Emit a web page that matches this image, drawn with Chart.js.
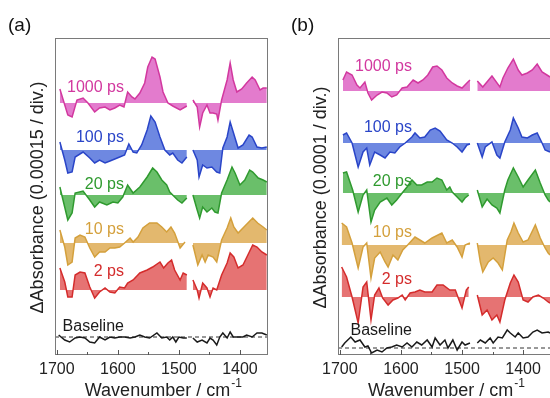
<!DOCTYPE html>
<html lang="en">
<head>
<meta charset="UTF-8" />
<title>Transient IR difference spectra</title>
<script src="https://cdn.jsdelivr.net/npm/chart.js"></script>
<style>
  html, body {
    margin: 0;
    padding: 0;
    width: 550px;
    height: 398px;
    overflow: hidden;
    background: #fff;
  }
  .panel {
    position: absolute;
    top: 0;
    height: 398px;
  }
  #panelA { left: 0; width: 275px; }
  #panelB { left: 283px; width: 285px; }
</style>
</head>
<body>
<div class="panel" id="panelA"><canvas id="chartA"></canvas></div>
<div class="panel" id="panelB"><canvas id="chartB"></canvas></div>

<script>
// trace names, top to bottom
const delays = ['1000 ps', '100 ps', '20 ps', '10 ps', '2 ps', 'Baseline'];
const xTicks = [1700, 1600, 1500, 1400];
const xMinorTicks = [1650, 1550, 1450];
const xRangeA = [1354, 1703];
const xRangeB = [1338, 1703];   // panel (b) runs off the right edge of the figure
const GAP = [1482, null];

// panel (a) — [wavenumber, dA] (arb. units)
const a1000 = [[1695,14],[1682,-12],[1675,-14],[1667,3],[1657,5],[1649,0],[1638,-9],[1630,-5],[1621,-4],[1613,-7],[1605,-5],[1597,-2],[1590,-4],[1584,11],[1577,6],[1572,4],[1564,10],[1556,20],[1551,36],[1544,46],[1539,44],[1531,26],[1526,11],[1518,0],[1510,-3],[1498,-7],[1487,-3],
  GAP,[1477,3],[1470,-4],[1466,-24],[1461,-10],[1454,-2],[1449,-10],[1444,-10],[1438,-11],[1436,-17],[1430,3],[1421,23],[1416,40],[1411,23],[1405,11],[1397,14],[1389,20],[1380,26],[1375,23],[1367,13],[1362,15],[1356,15]];
const a100 = [[1695,8],[1687,-10],[1682,-23],[1675,-22],[1670,-7],[1657,-2],[1646,-8],[1638,-13],[1630,-10],[1621,-13],[1613,-11],[1605,-9],[1597,-7],[1589,-5],[1582,6],[1575,-2],[1569,-3],[1561,5],[1552,20],[1546,34],[1539,28],[1531,13],[1523,0],[1515,-5],[1510,-3],[1502,-10],[1495,-13],[1487,-7],
  GAP,[1477,0],[1470,-10],[1467,-27],[1461,-15],[1454,-18],[1446,-17],[1438,-22],[1433,-23],[1428,2],[1421,13],[1416,28],[1411,18],[1403,2],[1395,5],[1385,15],[1380,13],[1372,3],[1364,2],[1356,3]];
const a20 = [[1695,8],[1682,-25],[1675,-18],[1670,2],[1657,4],[1646,-5],[1638,-12],[1630,-7],[1618,-10],[1608,-7],[1600,-8],[1592,-2],[1584,10],[1575,2],[1564,8],[1552,18],[1543,27],[1536,23],[1528,15],[1520,10],[1515,3],[1502,-5],[1495,-8],[1487,-3],
  GAP,[1477,0],[1470,-15],[1466,-23],[1461,-12],[1454,-17],[1446,-13],[1441,-17],[1436,-18],[1430,2],[1421,15],[1413,28],[1408,22],[1400,10],[1392,15],[1384,25],[1379,23],[1370,17],[1362,15],[1356,13]];
const a10 = [[1695,13],[1687,-4],[1682,-22],[1675,-19],[1670,5],[1662,8],[1654,6],[1646,-5],[1638,-14],[1630,-9],[1621,-9],[1613,-5],[1605,-5],[1597,-4],[1589,0],[1580,5],[1575,1],[1567,6],[1559,15],[1548,20],[1536,20],[1528,16],[1520,11],[1513,16],[1507,10],[1498,-5],[1490,1],
  GAP,[1477,-2],[1469,-22],[1462,-12],[1457,-19],[1452,-12],[1444,-14],[1438,-19],[1430,3],[1421,15],[1415,25],[1410,16],[1403,10],[1395,15],[1387,20],[1379,25],[1371,20],[1362,16],[1356,13]];
const a2 = [[1695,22],[1687,8],[1682,-7],[1675,-7],[1670,15],[1662,18],[1654,17],[1646,3],[1638,-8],[1630,-2],[1621,2],[1613,-2],[1605,-3],[1597,3],[1589,2],[1584,7],[1575,10],[1564,17],[1552,20],[1543,23],[1531,28],[1525,22],[1518,27],[1512,30],[1507,20],[1498,10],[1493,17],[1487,15],
  GAP,[1477,10],[1470,0],[1467,-8],[1461,7],[1454,2],[1449,-7],[1444,2],[1438,0],[1430,15],[1421,27],[1416,37],[1410,33],[1403,22],[1395,25],[1387,35],[1379,45],[1372,43],[1364,38],[1356,35]];
const aBase = [[1697,2],[1687,-3],[1679,-5],[1670,-1],[1662,0],[1654,-1],[1646,-5],[1638,-6],[1630,0],[1621,-3],[1613,0],[1605,-1],[1597,0],[1589,0],[1580,-1],[1572,0],[1564,2],[1556,0],[1548,-1],[1536,4],[1528,-1],[1520,0],[1515,-3],[1510,0],[1505,-5],[1500,0],[1493,-1],[1487,-1],
  GAP,[1477,-1],[1470,-5],[1462,-3],[1454,-6],[1449,-1],[1444,-3],[1438,-8],[1433,0],[1428,4],[1421,-1],[1416,5],[1411,0],[1403,0],[1395,0],[1389,2],[1380,0],[1372,4],[1364,4],[1356,2]];

// panel (b)
const b1000 = [[1695,11],[1689,19],[1680,16],[1672,6],[1667,3],[1659,9],[1654,-2],[1648,-9],[1639,-4],[1631,-1],[1623,-2],[1615,-6],[1607,-4],[1598,3],[1590,4],[1580,11],[1572,8],[1564,11],[1556,16],[1548,24],[1541,25],[1533,21],[1525,13],[1516,8],[1508,5],[1500,3],[1492,8],[1487,11],
  GAP,[1475,10],[1466,4],[1451,15],[1438,4],[1433,13],[1425,23],[1416,32],[1408,21],[1402,16],[1393,18],[1385,21],[1377,27],[1369,19],[1361,16],[1356,14]];
const b100 = [[1695,8],[1689,10],[1680,0],[1670,-24],[1662,-9],[1656,-5],[1651,-22],[1643,-9],[1634,-12],[1626,-15],[1618,-9],[1610,-10],[1602,-4],[1593,0],[1582,6],[1577,10],[1569,5],[1561,6],[1552,13],[1544,15],[1536,12],[1525,3],[1516,0],[1508,-4],[1500,-9],[1492,-2],[1487,-1],
  GAP,[1475,0],[1467,-14],[1462,-4],[1451,1],[1443,-12],[1438,-15],[1430,1],[1421,13],[1416,25],[1408,15],[1402,6],[1393,5],[1385,8],[1377,10],[1369,0],[1364,-7],[1356,-9]];
const b20 = [[1695,20],[1689,21],[1679,3],[1670,-19],[1662,-2],[1656,3],[1649,-29],[1643,-17],[1634,-9],[1623,-5],[1615,-12],[1607,-7],[1598,0],[1590,6],[1582,13],[1574,8],[1566,8],[1557,11],[1549,11],[1541,15],[1533,13],[1525,3],[1520,6],[1516,1],[1508,-4],[1500,-9],[1495,-5],[1489,-2],
  GAP,[1475,3],[1467,-14],[1459,-6],[1451,-12],[1443,-15],[1438,-20],[1430,3],[1425,13],[1416,25],[1408,16],[1400,6],[1392,13],[1380,23],[1372,10],[1364,-2],[1359,-7],[1356,-9]];
const b10 = [[1697,22],[1689,18],[1680,2],[1670,-23],[1662,-2],[1656,2],[1649,-33],[1643,-13],[1634,-7],[1626,-17],[1621,-22],[1613,-10],[1605,-15],[1597,-5],[1589,0],[1577,8],[1569,5],[1561,2],[1549,7],[1533,12],[1525,2],[1516,5],[1508,-2],[1500,-12],[1495,0],[1487,2],
  GAP,[1475,2],[1470,-17],[1466,-27],[1457,-17],[1449,-13],[1441,-18],[1434,-25],[1426,5],[1420,13],[1415,22],[1408,12],[1400,3],[1392,5],[1380,20],[1372,7],[1364,-3],[1359,-8],[1356,-10]];
const b2 = [[1697,30],[1689,20],[1680,0],[1670,-26],[1662,10],[1656,15],[1649,-23],[1643,2],[1636,9],[1630,-1],[1621,-8],[1613,-3],[1605,-1],[1598,2],[1593,-3],[1585,4],[1577,5],[1569,7],[1561,5],[1549,5],[1541,12],[1531,12],[1520,7],[1511,7],[1500,-11],[1493,7],[1489,10],
  GAP,[1475,2],[1467,-18],[1459,-13],[1451,-23],[1443,-18],[1438,-25],[1430,-3],[1421,14],[1415,22],[1408,15],[1400,-3],[1392,-5],[1384,0],[1375,2],[1367,-1],[1359,-5],[1356,-6]];
const bBase = [[1697,1],[1692,5],[1682,11],[1675,6],[1667,8],[1659,1],[1654,2],[1648,-5],[1639,-2],[1631,-4],[1623,0],[1615,1],[1607,3],[1598,1],[1590,5],[1582,1],[1574,6],[1566,3],[1557,8],[1549,1],[1544,10],[1536,3],[1528,8],[1523,0],[1515,8],[1508,-2],[1500,6],[1495,3],[1487,5],
  GAP,[1475,5],[1470,8],[1462,5],[1454,10],[1449,5],[1441,11],[1434,10],[1426,18],[1421,15],[1413,11],[1408,15],[1400,10],[1392,11],[1384,16],[1377,18],[1369,15],[1359,16],[1356,15]];

// vertical stacking offsets of each trace
const offsetsA = [252, 205, 160, 112, 65, 18];
const offsetsB = [264, 212, 162, 110, 58, 7];
const yMax = 317;

// where the trace names sit
const labelXA = 1590, labelYA = [267, 217, 170, 125, 83, 28];
const labelXB = 1582, labelYB = [288, 227, 173, 122, 75, 24];

const lineColors = ['#d2389f', '#2a45c8', '#2f9a2f', '#d4a03c', '#d42c2c', '#1a1a1a'];
const fillColors = ['rgba(222,100,196,0.85)', 'rgba(85,115,220,0.85)', 'rgba(80,180,80,0.85)',
                    'rgba(222,172,85,0.85)', 'rgba(226,90,90,0.85)', 'transparent'];

const FONT = "'Liberation Sans', Arial, sans-serif";

function buildSets(traces, offsets, xRange) {
  const sets = traces.map((tr, i) => ({
    data: tr.map(([x, y]) => ({ x: x, y: y === null ? null : y + offsets[i] })),
    borderColor: lineColors[i],
    backgroundColor: fillColors[i],
    borderWidth: 1.5,
    pointRadius: 0,
    tension: 0,
    spanGaps: false,
    fill: i < 5 ? { value: offsets[i] } : false
  }));
  // dashed zero line under the baseline trace
  sets.push({
    data: [{ x: xRange[1], y: offsets[5] }, { x: xRange[0], y: offsets[5] }],
    borderColor: '#333',
    borderWidth: 1,
    borderDash: [4, 3],
    pointRadius: 0,
    fill: false
  });
  return sets;
}

function decorations(panel, yTitle, labelX, labelY) {
  return {
    id: 'decor',
    afterDatasetsDraw(chart) {
      const ctx = chart.ctx;
      const a = chart.chartArea;
      const sx = chart.scales.x, sy = chart.scales.y;
      ctx.save();

      // frame
      ctx.strokeStyle = '#7a7a7a';
      ctx.lineWidth = 1;
      ctx.strokeRect(a.left + 0.5, a.top + 0.5, a.right - a.left - 1, a.bottom - a.top - 1);

      // inward ticks on the bottom axis
      ctx.strokeStyle = '#555';
      ctx.beginPath();
      xTicks.forEach(v => {
        const px = Math.round(sx.getPixelForValue(v)) + 0.5;
        ctx.moveTo(px, a.bottom); ctx.lineTo(px, a.bottom - 5);
      });
      xMinorTicks.forEach(v => {
        const px = Math.round(sx.getPixelForValue(v)) + 0.5;
        ctx.moveTo(px, a.bottom); ctx.lineTo(px, a.bottom - 3);
      });
      ctx.stroke();

      // trace names
      ctx.font = '16px ' + FONT;
      ctx.textAlign = 'right';
      ctx.textBaseline = 'middle';
      delays.forEach((d, i) => {
        ctx.fillStyle = lineColors[i];
        ctx.fillText(d, sx.getPixelForValue(labelX), sy.getPixelForValue(labelY[i]));
      });

      // panel letter
      ctx.fillStyle = '#111';
      ctx.textAlign = 'left';
      ctx.textBaseline = 'alphabetic';
      ctx.font = '19px ' + FONT;
      ctx.fillText(panel, 8, 31);

      // y title
      ctx.font = '18px ' + FONT;
      ctx.fillStyle = '#222';
      ctx.save();
      ctx.translate(38.5, (a.top + a.bottom) / 2 + 1);
      ctx.rotate(-Math.PI / 2);
      ctx.textAlign = 'center';
      ctx.textBaseline = 'middle';
      ctx.fillText(yTitle, 0, 0);
      ctx.restore();

      // x title with superscript, centred under the 1700-1355 span
      const main = 'Wavenumber / cm', sup = '-1';
      ctx.font = '18px ' + FONT;
      const w1 = ctx.measureText(main).width;
      ctx.font = '12px ' + FONT;
      const w2 = ctx.measureText(sup).width;
      const x0 = sx.getPixelForValue(1528) - (w1 + w2) / 2 + 1;
      ctx.font = '18px ' + FONT;
      ctx.fillText(main, x0, 396);
      ctx.font = '12px ' + FONT;
      ctx.fillText(sup, x0 + w1 + 1, 387);

      ctx.restore();
    }
  };
}

function makeChart(id, traces, offsets, xRange, panel, yTitle, labelX, labelY) {
  return new Chart(document.getElementById(id), {
    type: 'line',
    data: { datasets: buildSets(traces, offsets, xRange) },
    options: {
      responsive: true,
      maintainAspectRatio: false,
      animation: false,
      layout: { padding: { top: 38, right: 7, left: 0, bottom: 0 } },
      plugins: { legend: { display: false }, tooltip: { enabled: false } },
      scales: {
        x: {
          type: 'linear',
          reverse: true,
          min: xRange[0],
          max: xRange[1],
          afterBuildTicks: s => { s.ticks = xTicks.map(v => ({ value: v })); },
          afterFit: s => { s.height = 43; },
          grid: { display: false, drawTicks: false },
          border: { display: false },
          ticks: {
            color: '#222',
            font: { family: FONT, size: 16 },
            padding: 5,
            maxRotation: 0,
            autoSkip: false,
            callback: v => String(v)
          }
        },
        y: {
          min: 0,
          max: yMax,
          afterFit: s => { s.width = 55; },
          ticks: { display: false },
          grid: { display: false },
          border: { display: false }
        }
      }
    },
    plugins: [decorations(panel, yTitle, labelX, labelY)]
  });
}

makeChart('chartA', [a1000, a100, a20, a10, a2, aBase], offsetsA, xRangeA, '(a)',
  '\u0394Absorbance (0.00015 / div.)', labelXA, labelYA);
makeChart('chartB', [b1000, b100, b20, b10, b2, bBase], offsetsB, xRangeB, '(b)',
  '\u0394Absorbance (0.0001 / div.)', labelXB, labelYB);
</script>
</body>
</html>
